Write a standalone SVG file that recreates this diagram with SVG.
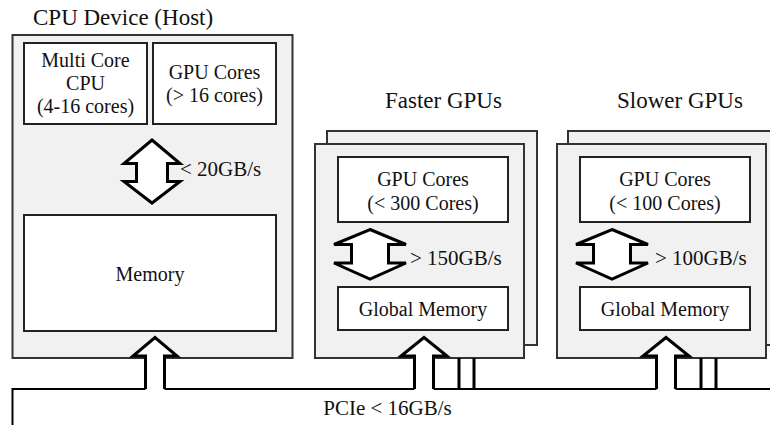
<svg xmlns="http://www.w3.org/2000/svg" width="770" height="425" viewBox="0 0 770 425">
  <style>
    text { font-family: "Liberation Serif", "Times New Roman", serif; fill: #111; }
    .title { font-size: 23px; }
    .lbl { font-size: 20px; text-anchor: middle; }
    .rate { font-size: 21px; }
    .card { fill: #f1f1f1; stroke: #333; stroke-width: 2; }
    .unit { fill: #fff; stroke: #222; stroke-width: 2; }
    .arrow { fill: #fff; stroke: #000; stroke-width: 3; stroke-linejoin: miter; }
    .bus { fill: none; stroke: #000; stroke-width: 2; }
    .tap { fill: none; stroke: #000; stroke-width: 3; }
  </style>

  <!-- Host side -->
  <g id="cpu-device">
    <text class="title" x="33" y="25">CPU Device (Host)</text>
    <rect class="card" x="12.5" y="35" width="280" height="323"/>
  </g>
  <g id="multi-core-cpu">
    <rect class="unit" x="24" y="43" width="123" height="81"/>
    <text class="lbl" x="85.5" y="67">Multi Core</text>
    <text class="lbl" x="85.5" y="90">CPU</text>
    <text class="lbl" x="85.5" y="113">(4-16 cores)</text>
  </g>
  <g id="host-gpu-cores">
    <rect class="unit" x="153" y="43" width="123" height="81"/>
    <text class="lbl" x="214.5" y="79">GPU Cores</text>
    <text class="lbl" x="214.5" y="102">(&gt; 16 cores)</text>
  </g>
  <g id="host-memory">
    <rect class="unit" x="24" y="215" width="252" height="116"/>
    <text class="lbl" x="150" y="281">Memory</text>
  </g>

  <!-- Faster GPU cards -->
  <g id="faster-gpus">
    <text class="title" x="385" y="108">Faster GPUs</text>
    <rect class="card" x="327" y="131" width="210" height="214"/>
    <rect class="card" x="315" y="144" width="209" height="214"/>
  </g>
  <g id="faster-gpu-cores">
    <rect class="unit" x="338" y="157" width="170" height="65"/>
    <text class="lbl" x="423" y="186">GPU Cores</text>
    <text class="lbl" x="423" y="210">(&lt; 300 Cores)</text>
  </g>
  <g id="faster-global-memory">
    <rect class="unit" x="338" y="287" width="170" height="43"/>
    <text class="lbl" x="423" y="316">Global Memory</text>
  </g>

  <!-- Slower GPU cards -->
  <g id="slower-gpus">
    <text class="title" x="617" y="108">Slower GPUs</text>
    <rect class="card" x="568" y="131" width="210" height="214"/>
    <rect class="card" x="557" y="144" width="209" height="214"/>
  </g>
  <g id="slower-gpu-cores">
    <rect class="unit" x="580" y="157" width="170" height="65"/>
    <text class="lbl" x="665" y="186">GPU Cores</text>
    <text class="lbl" x="665" y="210">(&lt; 100 Cores)</text>
  </g>
  <g id="slower-global-memory">
    <rect class="unit" x="580" y="287" width="170" height="43"/>
    <text class="lbl" x="665" y="316">Global Memory</text>
  </g>

  <!-- Connectors: bandwidth arrows and the PCIe bus -->
  <g id="connectors">
    <path class="bus" d="M12.5,425 V389 H145.5 M164.5,389 H414.5 M433.5,389 H656.5 M675.5,389 H770"/>
    <text class="rate" x="387.5" y="415" text-anchor="middle">PCIe &lt; 16GB/s</text>

    <!-- host: cores <-> memory -->
    <path class="arrow" d="M152,140 L180,163.5 H167.5 V181.5 H180 L152,203 L124,181.5 H136.5 V163.5 H124 Z"/>
    <text class="rate" x="180" y="176">&lt; 20GB/s</text>

    <!-- faster: cores <-> global memory -->
    <path class="arrow" d="M370,229.5 L406,244.5 H388.5 V263 H406 L370,279 L334,263 H351.5 V244.5 H334 Z"/>
    <text class="rate" x="410" y="265">&gt; 150GB/s</text>

    <!-- slower: cores <-> global memory -->
    <path class="arrow" d="M612,229.5 L648,244.5 H630.5 V263 H648 L612,279 L576,263 H593.5 V244.5 H576 Z"/>
    <text class="rate" x="655" y="265">&gt; 100GB/s</text>

    <!-- bus -> device memories -->
    <path class="arrow" d="M145.5,389 V356 H133 L155,337.5 L177,356 H164.5 V389"/>
    <path class="arrow" d="M414.5,389 V356 H401 L424,337.5 L447,356 H433.5 V389"/>
    <path class="arrow" d="M656.5,389 V356 H643 L666,337.5 L689,356 H675.5 V389"/>

    <!-- bus taps for the stacked cards -->
    <path class="tap" d="M459,358 V389 M474,358 V389 M701,358 V389 M716,358 V389"/>
  </g>
</svg>
